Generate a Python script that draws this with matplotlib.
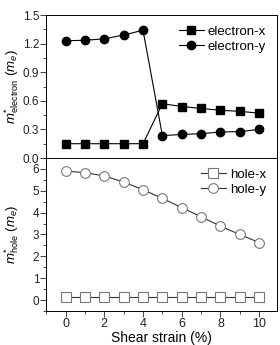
import matplotlib
matplotlib.use("Agg")
from matplotlib import pyplot as plt
from matplotlib.ticker import MultipleLocator

strain = [0, 1, 2, 3, 4, 5, 6, 7, 8, 9, 10]

electron_x = [0.15, 0.15, 0.15, 0.15, 0.15, 0.57, 0.54, 0.52, 0.50, 0.49, 0.47]
electron_y = [1.23, 1.235, 1.25, 1.29, 1.34, 0.235, 0.247, 0.255, 0.273, 0.277, 0.30]

hole_x = [0.13, 0.13, 0.13, 0.13, 0.13, 0.13, 0.13, 0.13, 0.13, 0.13, 0.13]
hole_y = [5.9, 5.83, 5.68, 5.4, 5.05, 4.65, 4.23, 3.81, 3.38, 3.0, 2.63]

plt.rcParams['font.family'] = ['Liberation Sans', 'DejaVu Sans']
plt.rcParams['mathtext.fontset'] = 'custom'
plt.rcParams['mathtext.it'] = 'Liberation Sans:italic'
plt.rcParams['mathtext.rm'] = 'Liberation Sans'

fig = plt.figure(figsize=(2.8, 3.45), dpi=100)
ax1 = fig.add_axes([0.165, 0.542, 0.823, 0.4145])
ax2 = fig.add_axes([0.165, 0.0986, 0.823, 0.4434])

line_kw = dict(color='black', lw=0.8, markersize=6)
ax1.plot(strain, electron_x, marker='s', mfc='black', mec='black', label='electron-x', **line_kw)
ax1.plot(strain, electron_y, marker='o', mfc='black', mec='black', label='electron-y', **line_kw)

open_kw = dict(color='#333333', lw=0.8, markersize=7, mfc='white', mec='#777777', mew=0.8)
ax2.plot(strain, hole_x, marker='s', label='hole-x', **open_kw)
ax2.plot(strain, hole_y, marker='o', label='hole-y', **open_kw)

for ax in (ax1, ax2):
    ax.set_xlim(-1, 10.9)
    ax.xaxis.set_major_locator(MultipleLocator(2))
    ax.xaxis.set_minor_locator(MultipleLocator(1))
    ax.tick_params(which='both', direction='out', labelsize=9, pad=1,
                   top=False, right=False, width=0.6, colors='#222222')
    ax.tick_params(axis='y', labelsize=8.5)
    ax.tick_params(which='major', length=4)
    ax.tick_params(which='minor', length=2.5)
    for s in ax.spines.values():
        s.set_linewidth(0.7)
    ax.legend(loc='upper right', frameon=False, fontsize=9.5, handlelength=1.9,
              handletextpad=0.3, labelspacing=0.2, borderaxespad=0.4)

ax1.set_ylim(0, 1.5)
ax1.yaxis.set_major_locator(MultipleLocator(0.3))
ax1.yaxis.set_minor_locator(MultipleLocator(0.15))
ax1.yaxis.set_major_formatter(plt.FormatStrFormatter('%.1f'))
ax1.tick_params(axis='x', labelbottom=False)
ax1.set_ylabel(r'$m^{*}_{\rm electron}$ ($m_e$)', fontsize=9.5)
ax1.yaxis.set_label_coords(-0.11, 0.5)

ax2.set_ylim(-0.5, 6.5)
ax2.yaxis.set_major_locator(MultipleLocator(1))
ax2.yaxis.set_minor_locator(MultipleLocator(0.5))
ax2.set_ylabel(r'$m^{*}_{\rm hole}$ ($m_e$)', fontsize=9.5)
ax2.yaxis.set_label_coords(-0.11, 0.5)
ax2.set_xlabel('Shear strain (%)', fontsize=10, labelpad=0.5)

fig.savefig('out.png', dpi=100)
